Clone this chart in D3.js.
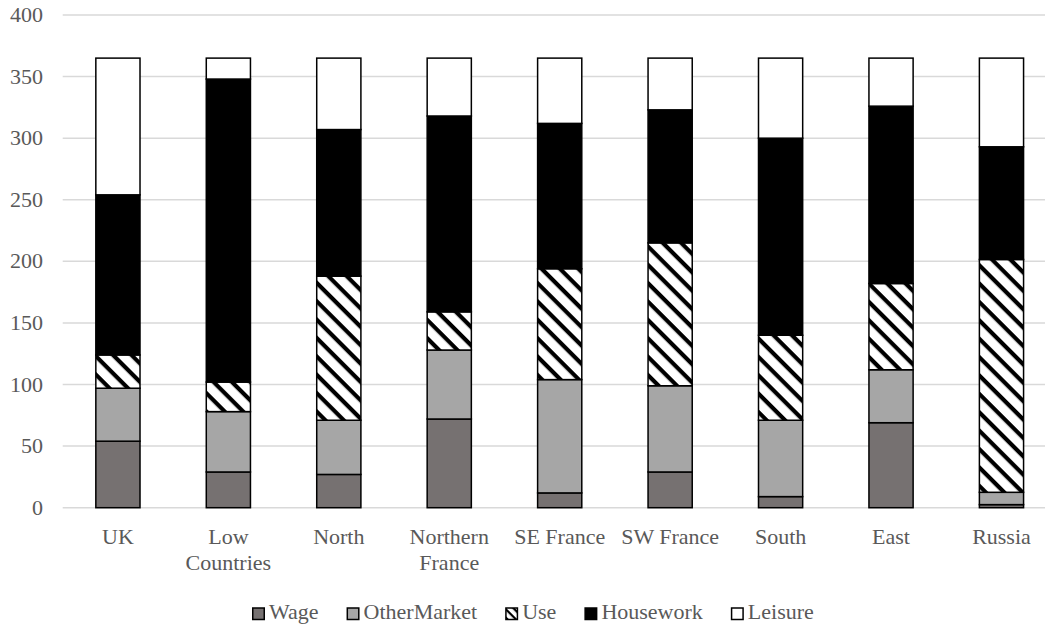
<!DOCTYPE html>
<html>
<head>
<meta charset="utf-8">
<script src="https://cdn.jsdelivr.net/npm/d3@7"></script>
<style>
  body { margin: 0; background: #fff; }
  #chart { position: relative; width: 1045px; height: 629px; overflow: hidden; }
  #chart > svg { position: absolute; left: 0; top: 0; }
  .lbl { position: absolute; font-family: "Liberation Serif", "Times New Roman", serif;
         font-size: 22px; line-height: 26px; color: #595959; white-space: nowrap; }
</style>
</head>
<body>
<div id="chart"></div>
<script>
const regions = ["UK", "Low Countries", "North", "Northern France", "SE France", "SW France", "South", "East", "Russia"];
const seriesNames = ["Wage", "OtherMarket", "Use", "Housework", "Leisure"];
const wage        = [54, 29, 27, 72, 12, 29, 9, 69, 2.5];
const otherMarket = [43, 49, 44, 56, 92, 70, 62, 43, 10];
const use         = [27, 24, 117, 31, 90, 116, 69, 70, 189];
const housework   = [130, 246, 119, 159, 118, 108, 160, 144, 91.5];
const leisure     = [111, 17, 58, 47, 53, 42, 65, 39, 72];
const yTicks = [0, 50, 100, 150, 200, 250, 300, 350, 400];

const width = 1045,
    height = 629;
const baseOff = 20.4; // baseline offset inside a 26px line box, 22px font

const chart = d3.select("#chart");
const svg = chart.append("svg")
    .attr("width", width)
    .attr("height", height);

const box = { left: 62.7, right: 1056.7, top: 15, bottom: 507.7 };

const table = regions.map((r, i) => ({
    region: r,
    Wage: wage[i],
    OtherMarket: otherMarket[i],
    Use: use[i],
    Housework: housework[i],
    Leisure: leisure[i]
}));
const stacked = d3.stack().keys(seriesNames)(table);

const scaleX = d3.scaleBand()
    .domain(regions)
    .range([box.left, box.right])
    .paddingInner(0.6)
    .paddingOuter(0.3);
const scaleY = d3.scaleLinear()
    .domain([0, 400])
    .range([box.bottom, box.top]);

// hatch patterns for "Use"
const defs = svg.append("defs");
function hatch(id, size, thick) {
    const p = defs.append("pattern")
        .attr("id", id)
        .attr("patternUnits", "userSpaceOnUse")
        .attr("width", size)
        .attr("height", size)
        .attr("patternTransform", "rotate(45)");
    p.append("rect").attr("width", size).attr("height", size).attr("fill", "#fff");
    p.append("rect").attr("width", size).attr("height", thick).attr("fill", "#000");
}
hatch("useHatch", 13, 4.2);
hatch("useHatchSmall", 6, 2.2);

const fills = {
    Wage: "#767171",
    OtherMarket: "#a6a6a6",
    Use: "url(#useHatch)",
    Housework: "#000",
    Leisure: "#fff"
};

// gridlines
svg.append("g").classed("grid", true)
    .selectAll("line")
    .data(yTicks)
    .join("line")
    .attr("x1", box.left)
    .attr("x2", box.right)
    .attr("y1", d => scaleY(d))
    .attr("y2", d => scaleY(d))
    .attr("stroke", "#d9d9d9")
    .attr("stroke-width", 1.5);

// bars
svg.append("g").classed("bars", true)
    .selectAll("g")
    .data(stacked)
    .join("g")
    .attr("fill", d => fills[d.key])
    .selectAll("rect")
    .data(d => d)
    .join("rect")
    .attr("x", d => scaleX(d.data.region))
    .attr("width", scaleX.bandwidth())
    .attr("y", d => scaleY(d[1]))
    .attr("height", d => scaleY(d[0]) - scaleY(d[1]))
    .attr("stroke", "#000")
    .attr("stroke-width", 1.5);

// y labels
chart.selectAll(".ylbl")
    .data(yTicks)
    .join("div")
    .attr("class", "lbl ylbl")
    .style("left", "0px")
    .style("width", "43px")
    .style("text-align", "right")
    .style("top", d => (scaleY(d) + 7.5 - baseOff) + "px")
    .text(d => d);

// x labels
const wrap = { "Low Countries": ["Low", "Countries"], "Northern France": ["Northern", "France"] };
chart.selectAll(".xlbl")
    .data(regions)
    .join("div")
    .attr("class", "lbl xlbl")
    .style("left", d => (scaleX(d) + scaleX.bandwidth() / 2 - 60) + "px")
    .style("width", "120px")
    .style("text-align", "center")
    .style("top", (544 - baseOff) + "px")
    .html(d => (wrap[d] || [d]).join("<br>"));

// legend: swatches in the svg, labels as html text
const swatches = svg.append("g").classed("legend", true);
let lx = 252;
seriesNames.forEach(name => {
    swatches.append("rect")
        .attr("x", lx + 0.75)
        .attr("y", 608)
        .attr("width", 11.5)
        .attr("height", 11.5)
        .attr("fill", name === "Use" ? "url(#useHatchSmall)" : fills[name])
        .attr("stroke", "#000")
        .attr("stroke-width", 1.5);
    const t = chart.append("div")
        .attr("class", "lbl legend-lbl")
        .style("left", (lx + 17) + "px")
        .style("top", (619 - baseOff) + "px")
        .text(name);
    lx += 17 + t.node().getBoundingClientRect().width + 28;
});
</script>
</body>
</html>
